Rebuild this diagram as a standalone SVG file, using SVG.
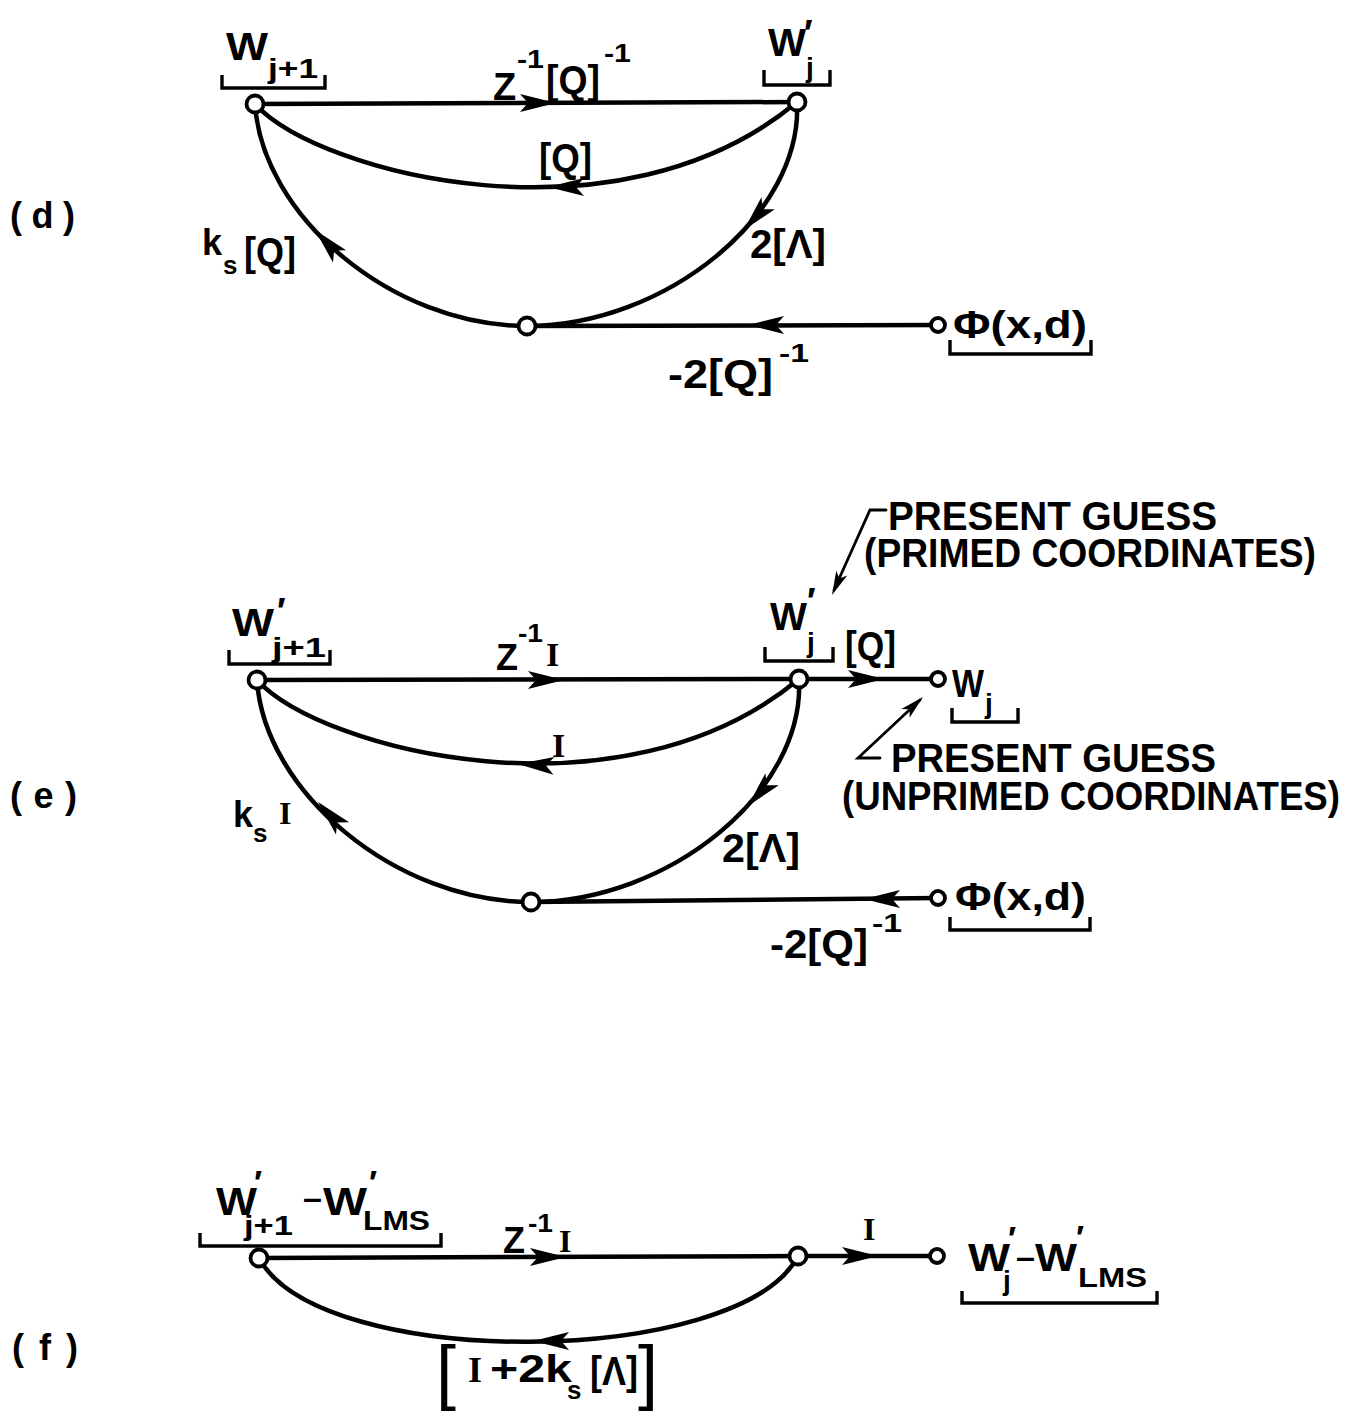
<svg xmlns="http://www.w3.org/2000/svg" xmlns:xlink="http://www.w3.org/1999/xlink" width="1356" height="1416" viewBox="0 0 1356 1416">
<style>
.ln{fill:none;stroke:#000;stroke-width:4.5;stroke-linecap:round}
.an{fill:none;stroke:#000;stroke-width:2.8;stroke-linecap:round;stroke-linejoin:miter}
.br{fill:none;stroke:#000;stroke-width:3.4}
.nd{fill:#fff;stroke:#000;stroke-width:3.8}
.t{font-family:"Liberation Sans",Arial,sans-serif;font-weight:bold;fill:#000}
.s{font-family:"Liberation Serif","Times New Roman",serif;font-weight:bold;fill:#000}
.bk{font-family:"Liberation Sans",Arial,sans-serif;font-weight:normal;fill:#000}
</style>
<defs>
<path id="ah" d="M0,0 L-36,-9 L-28,0 L-36,9 Z" fill="#000"/>
<path id="ah2" d="M0,0 L-24,-6 L-18,0 L-24,6 Z" fill="#000"/>
</defs>
<rect width="1356" height="1416" fill="#fff"/>

<!-- section labels -->
<text class="t" x="10" y="228" font-size="36" textLength="65" lengthAdjust="spacing">(d)</text>
<text class="t" x="10" y="808" font-size="36" textLength="67" lengthAdjust="spacing">(e)</text>
<text class="t" x="12" y="1360" font-size="36" textLength="66" lengthAdjust="spacing">(f)</text>

<g id="connectors">
  <!-- (d) -->
  <path class="ln" d="M255,104 L797,102"/>
  <path class="ln" d="M255,104 C320,175 620,250 797,102"/>
  <path class="ln" d="M527,326 C391,326 262,215 255,104"/>
  <path class="ln" d="M797,102 C803,215 665,326 527,326"/>
  <path class="ln" d="M938,325 L527,326"/>
  <use xlink:href="#ah" transform="translate(556,103) rotate(0)"/>
  <use xlink:href="#ah" transform="translate(548,187) rotate(180)"/>
  <use xlink:href="#ah" transform="translate(315,230) rotate(227)"/>
  <use xlink:href="#ah" transform="translate(744,230) rotate(132)"/>
  <use xlink:href="#ah" transform="translate(748,325) rotate(180)"/>
  <!-- (e) -->
  <path class="ln" d="M257,680 L799,679"/>
  <path class="ln" d="M257,680 C322,751 622,826 799,679"/>
  <path class="ln" d="M531,902 C395,902 264,791 257,680"/>
  <path class="ln" d="M799,679 C805,792 669,902 531,902"/>
  <path class="ln" d="M799,679 L938,679"/>
  <path class="ln" d="M938,898 L531,902"/>
  <use xlink:href="#ah" transform="translate(564,680) rotate(0)"/>
  <use xlink:href="#ah" transform="translate(518,764) rotate(183)"/>
  <use xlink:href="#ah" transform="translate(318,802) rotate(227)"/>
  <use xlink:href="#ah" transform="translate(748,806) rotate(132)"/>
  <use xlink:href="#ah" transform="translate(884,679) rotate(0)"/>
  <use xlink:href="#ah" transform="translate(864,899) rotate(180)"/>
  <!-- (e) annotation pointers -->
  <path class="an" d="M886,510 L870,510 L834,590"/>
  <use xlink:href="#ah2" transform="translate(832,595) rotate(114)"/>
  <path class="an" d="M880,758 L858,758 L920,700"/>
  <use xlink:href="#ah2" transform="translate(923,697) rotate(-43)"/>
  <!-- (f) -->
  <path class="ln" d="M259,1258 L798,1256"/>
  <path class="ln" d="M798,1256 L937,1256"/>
  <path class="ln" d="M798,1256 C740,1368 320,1372 259,1258"/>
  <use xlink:href="#ah" transform="translate(566,1257) rotate(0)"/>
  <use xlink:href="#ah" transform="translate(878,1256) rotate(0)"/>
  <use xlink:href="#ah" transform="translate(533,1341) rotate(180)"/>
</g>

<g id="edge-labels">
  <!-- (d) -->
  <text class="t" x="493" y="100" font-size="38">Z</text>
  <text class="t" x="517" y="68" font-size="26" textLength="27" lengthAdjust="spacingAndGlyphs">-1</text>
  <text class="t" x="546" y="94" font-size="40" textLength="54" lengthAdjust="spacingAndGlyphs">[Q]</text>
  <text class="t" x="604" y="62" font-size="26" textLength="27" lengthAdjust="spacingAndGlyphs">-1</text>
  <text class="t" x="539" y="172" font-size="40" textLength="53" lengthAdjust="spacingAndGlyphs">[Q]</text>
  <text class="t" x="202" y="255" font-size="36">k</text>
  <text class="t" x="223" y="274" font-size="26">s</text>
  <text class="t" x="244" y="266" font-size="40" textLength="52" lengthAdjust="spacingAndGlyphs">[Q]</text>
  <text class="t" x="750" y="258" font-size="40" textLength="76" lengthAdjust="spacingAndGlyphs">2[Λ]</text>
  <text class="t" x="668" y="388" font-size="40" textLength="105" lengthAdjust="spacingAndGlyphs">-2[Q]</text>
  <text class="t" x="779" y="362" font-size="26" textLength="30" lengthAdjust="spacingAndGlyphs">-1</text>
  <!-- (e) -->
  <text class="t" x="496" y="670" font-size="36">Z</text>
  <text class="t" x="518" y="642" font-size="26" textLength="25" lengthAdjust="spacingAndGlyphs">-1</text>
  <text class="s" x="546" y="666" font-size="34">I</text>
  <text class="s" x="552" y="757" font-size="34">I</text>
  <text class="t" x="233" y="827" font-size="36">k</text>
  <text class="t" x="253" y="842" font-size="26">s</text>
  <text class="s" x="279" y="824" font-size="32">I</text>
  <text class="t" x="722" y="862" font-size="40" textLength="78" lengthAdjust="spacingAndGlyphs">2[Λ]</text>
  <text class="t" x="845" y="660" font-size="40" textLength="51" lengthAdjust="spacingAndGlyphs">[Q]</text>
  <text class="t" x="770" y="958" font-size="40" textLength="98" lengthAdjust="spacingAndGlyphs">-2[Q]</text>
  <text class="t" x="872" y="932" font-size="26" textLength="30" lengthAdjust="spacingAndGlyphs">-1</text>
  <text class="t" x="888" y="530" font-size="40" textLength="329" lengthAdjust="spacingAndGlyphs">PRESENT GUESS</text>
  <text class="t" x="864" y="567" font-size="40" textLength="452" lengthAdjust="spacingAndGlyphs">(PRIMED COORDINATES)</text>
  <text class="t" x="891" y="772" font-size="40" textLength="325" lengthAdjust="spacingAndGlyphs">PRESENT GUESS</text>
  <text class="t" x="842" y="810" font-size="40" textLength="498" lengthAdjust="spacingAndGlyphs">(UNPRIMED COORDINATES)</text>
  <!-- (f) -->
  <text class="t" x="503" y="1253" font-size="36">Z</text>
  <text class="t" x="528" y="1232" font-size="26" textLength="25" lengthAdjust="spacingAndGlyphs">-1</text>
  <text class="s" x="559" y="1252" font-size="32">I</text>
  <text class="s" x="863" y="1240" font-size="32">I</text>
  <text class="bk" x="436" y="1396" font-size="72">[</text>
  <text class="s" x="468" y="1382" font-size="36">I</text>
  <text class="t" x="490" y="1382" font-size="38" textLength="82" lengthAdjust="spacingAndGlyphs">+2k</text>
  <text class="t" x="567" y="1399" font-size="26">s</text>
  <text class="t" x="590" y="1385" font-size="40" textLength="48" lengthAdjust="spacingAndGlyphs">[Λ]</text>
  <text class="bk" x="638" y="1396" font-size="72">]</text>
</g>

<!-- (d) nodes -->
<g id="d-wj1">
  <circle class="nd" cx="255" cy="104" r="8.5"/>
  <text class="t" x="226" y="60" font-size="38" textLength="42" lengthAdjust="spacingAndGlyphs">W</text>
  <text class="t" x="268" y="78" font-size="28" textLength="50" lengthAdjust="spacingAndGlyphs">j+1</text>
  <path class="br" d="M222,75 V88 H325 V75"/>
</g>
<g id="d-wj">
  <circle class="nd" cx="797" cy="102" r="8.5"/>
  <text class="t" x="768" y="56" font-size="38" textLength="38" lengthAdjust="spacingAndGlyphs">W</text>
  <text class="t" x="804" y="46" font-size="36">′</text>
  <text class="t" x="806" y="77" font-size="28">j</text>
  <path class="br" d="M764,70 V85 H830 V70"/>
</g>
<g id="d-mid">
  <circle class="nd" cx="527" cy="326" r="8.5"/>
</g>
<g id="d-phi">
  <circle class="nd" cx="938" cy="325" r="7"/>
  <text class="t" x="953" y="338" font-size="38" textLength="134" lengthAdjust="spacingAndGlyphs">Φ(x,d)</text>
  <path class="br" d="M950,340 V354 H1091 V340"/>
</g>

<!-- (e) nodes -->
<g id="e-wj1">
  <circle class="nd" cx="257" cy="680" r="8.5"/>
  <text class="t" x="232" y="636" font-size="38" textLength="42" lengthAdjust="spacingAndGlyphs">W</text>
  <text class="t" x="277" y="624" font-size="36">′</text>
  <text class="t" x="272" y="657" font-size="28" textLength="54" lengthAdjust="spacingAndGlyphs">j+1</text>
  <path class="br" d="M229,650 V664 H330 V650"/>
</g>
<g id="e-wjp">
  <circle class="nd" cx="799" cy="679" r="8.5"/>
  <text class="t" x="770" y="630" font-size="38" textLength="37" lengthAdjust="spacingAndGlyphs">W</text>
  <text class="t" x="807" y="614" font-size="36">′</text>
  <text class="t" x="807" y="652" font-size="28">j</text>
  <path class="br" d="M765,647 V661 H833 V647"/>
</g>
<g id="e-wj">
  <circle class="nd" cx="938" cy="679" r="7"/>
  <text class="t" x="952" y="697" font-size="38" textLength="32" lengthAdjust="spacingAndGlyphs">W</text>
  <text class="t" x="985" y="713" font-size="28">j</text>
  <path class="br" d="M952,708 V722 H1018 V708"/>
</g>
<g id="e-mid">
  <circle class="nd" cx="531" cy="902" r="8.5"/>
</g>
<g id="e-phi">
  <circle class="nd" cx="938" cy="898" r="7"/>
  <text class="t" x="955" y="910" font-size="38" textLength="131" lengthAdjust="spacingAndGlyphs">Φ(x,d)</text>
  <path class="br" d="M950,917 V930 H1090 V917"/>
</g>

<!-- (f) nodes -->
<g id="f-in">
  <circle class="nd" cx="259" cy="1258" r="8.5"/>
  <text class="t" x="216" y="1215" font-size="38" textLength="41" lengthAdjust="spacingAndGlyphs">W</text>
  <text class="t" x="254" y="1194" font-size="34">′</text>
  <text class="t" x="244" y="1235" font-size="28" textLength="49" lengthAdjust="spacingAndGlyphs">j+1</text>
  <text class="t" x="303" y="1209" font-size="34">–</text>
  <text class="t" x="323" y="1215" font-size="38" textLength="44" lengthAdjust="spacingAndGlyphs">W</text>
  <text class="t" x="369" y="1194" font-size="34">′</text>
  <text class="t" x="363" y="1230" font-size="28" textLength="67" lengthAdjust="spacingAndGlyphs">LMS</text>
  <path class="br" d="M200,1233 V1246 H441 V1233"/>
</g>
<g id="f-mid">
  <circle class="nd" cx="798" cy="1256" r="8.5"/>
</g>
<g id="f-out">
  <circle class="nd" cx="937" cy="1256" r="7"/>
  <text class="t" x="968" y="1271" font-size="38" textLength="42" lengthAdjust="spacingAndGlyphs">W</text>
  <text class="t" x="1008" y="1250" font-size="34">′</text>
  <text class="t" x="1003" y="1290" font-size="28">j</text>
  <text class="t" x="1016" y="1268" font-size="34">–</text>
  <text class="t" x="1035" y="1271" font-size="38" textLength="42" lengthAdjust="spacingAndGlyphs">W</text>
  <text class="t" x="1076" y="1249" font-size="34">′</text>
  <text class="t" x="1078" y="1287" font-size="28" textLength="69" lengthAdjust="spacingAndGlyphs">LMS</text>
  <path class="br" d="M962,1291 V1303 H1157 V1291"/>
</g>
</svg>
